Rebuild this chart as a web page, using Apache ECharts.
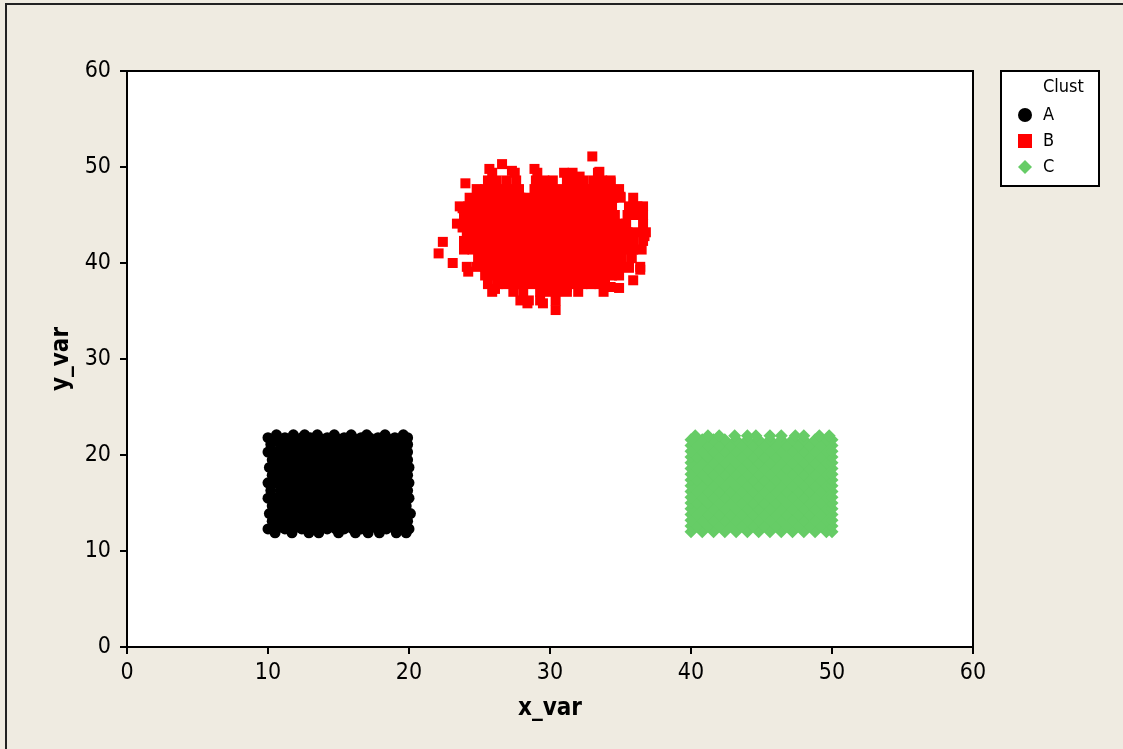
<!DOCTYPE html>
<html><head><meta charset="utf-8">
<script src="https://cdn.jsdelivr.net/npm/echarts@6/dist/echarts.min.js"></script>
<style>
html,body{margin:0;padding:0;background:#EFEBE1;overflow:hidden;}
#frame{position:absolute;left:5px;top:3px;width:1140px;height:770px;border-top:2px solid #222;border-left:2px solid #222;}
#chart{position:absolute;left:0;top:0;width:1123px;height:749px;}
</style></head><body><div id="frame"></div><div id="chart"></div>
<script>
const clusterNames = ['A', 'B', 'C'];
const axisTicks = [0, 10, 20, 30, 40, 50, 60];

// Cluster A: row y values and x values read per row
const aRowY = [11.9, 12.3, 13.1, 13.9, 14.7, 15.5, 16.3, 17.1, 17.9, 18.7, 19.5, 20.3, 21.1, 21.8, 22.1];
const aRowX = [
  [10.5, 11.7, 12.9, 13.6, 15.0, 16.2, 17.1, 17.9, 19.1, 19.8],
  [10.0, 10.6, 11.2, 11.8, 12.4, 13.0, 13.6, 14.2, 14.8, 15.4, 16.0, 16.6, 17.2, 17.8, 18.4, 19.0, 19.6, 20.0],
  [10.3, 10.9, 11.5, 12.1, 12.7, 13.3, 13.9, 14.5, 15.1, 15.7, 16.3, 16.9, 17.5, 18.1, 18.7, 19.3, 19.9],
  [10.1, 10.6, 11.2, 11.8, 12.4, 13.0, 13.6, 14.2, 14.8, 15.4, 16.0, 16.6, 17.2, 17.8, 18.4, 19.0, 19.6, 20.1],
  [10.3, 10.9, 11.5, 12.1, 12.7, 13.3, 13.9, 14.5, 15.1, 15.7, 16.3, 16.9, 17.5, 18.1, 18.7, 19.3, 19.8],
  [10.0, 10.6, 11.2, 11.8, 12.4, 13.0, 13.6, 14.2, 14.8, 15.4, 16.0, 16.6, 17.2, 17.8, 18.4, 19.0, 19.6, 20.0],
  [10.2, 10.9, 11.5, 12.1, 12.7, 13.3, 13.9, 14.5, 15.1, 15.7, 16.3, 16.9, 17.5, 18.1, 18.7, 19.3, 19.9],
  [10.0, 10.6, 11.2, 11.8, 12.4, 13.0, 13.6, 14.2, 14.8, 15.4, 16.0, 16.6, 17.2, 17.8, 18.4, 19.0, 19.6, 20.0],
  [10.3, 10.9, 11.5, 12.1, 12.7, 13.3, 13.9, 14.5, 15.1, 15.7, 16.3, 16.9, 17.5, 18.1, 18.7, 19.3, 19.9],
  [10.1, 10.6, 11.2, 11.8, 12.4, 13.0, 13.6, 14.2, 14.8, 15.4, 16.0, 16.6, 17.2, 17.8, 18.4, 19.0, 19.6, 20.0],
  [10.3, 10.9, 11.5, 12.1, 12.7, 13.3, 13.9, 14.5, 15.1, 15.7, 16.3, 16.9, 17.5, 18.1, 18.7, 19.3, 19.9],
  [10.0, 10.6, 11.2, 11.8, 12.4, 13.0, 13.6, 14.2, 14.8, 15.4, 16.0, 16.6, 17.2, 17.8, 18.4, 19.0, 19.6, 19.9],
  [10.2, 10.9, 11.5, 12.1, 12.7, 13.3, 13.9, 14.5, 15.1, 15.7, 16.3, 16.9, 17.5, 18.1, 18.7, 19.3, 19.9],
  [10.0, 10.6, 11.2, 11.8, 12.4, 13.0, 13.6, 14.2, 14.8, 15.4, 16.0, 16.6, 17.2, 17.8, 18.4, 19.0, 19.6, 19.9],
  [10.6, 11.8, 12.6, 13.5, 14.7, 15.9, 17.0, 18.3, 19.6]
];

// Cluster B: dense core rows plus scattered outliers
const bRowY = [49.4, 48.6, 47.7, 46.8, 45.9, 45.0, 44.1, 43.2, 42.3, 41.4, 40.5, 39.6, 38.7, 37.8, 37.0, 36.1];
const bRowX = [
  [25.9, 27.5, 29.1, 31.0, 31.6, 33.4],
  [25.6, 26.2, 26.9, 27.6, 29.0, 29.6, 30.2, 31.2, 31.8, 32.4, 33.1, 33.7, 34.3],
  [24.8, 25.4, 26.0, 26.6, 27.2, 27.8, 28.9, 29.5, 30.1, 30.7, 31.3, 31.9, 32.5, 33.1, 33.7, 34.3, 34.9],
  [24.3, 24.9, 25.5, 26.1, 26.7, 27.3, 27.9, 28.5, 29.1, 29.7, 30.3, 30.9, 31.5, 32.1, 32.7, 33.3, 33.9, 34.5, 35.0, 35.9],
  [23.6, 24.2, 24.8, 25.4, 26.0, 26.6, 27.2, 27.8, 28.4, 29.0, 29.6, 30.2, 30.8, 31.4, 32.0, 32.6, 33.2, 33.8, 34.4, 35.6, 36.2, 36.6],
  [23.9, 24.5, 25.1, 25.7, 26.3, 26.9, 27.5, 28.1, 28.7, 29.3, 29.9, 30.5, 31.1, 31.7, 32.3, 32.9, 33.5, 34.1, 34.6, 35.5, 36.1, 36.6],
  [23.4, 24.0, 24.6, 25.2, 25.8, 26.4, 27.0, 27.6, 28.2, 28.8, 29.4, 30.0, 30.6, 31.2, 31.8, 32.4, 33.0, 33.6, 34.2, 34.8, 35.4, 36.6],
  [24.1, 24.7, 25.3, 25.9, 26.5, 27.1, 27.7, 28.3, 28.9, 29.5, 30.1, 30.7, 31.3, 31.9, 32.5, 33.1, 33.7, 34.3, 34.9, 35.5, 36.1, 36.8],
  [23.9, 24.5, 25.1, 25.7, 26.3, 26.9, 27.5, 28.1, 28.7, 29.3, 29.9, 30.5, 31.1, 31.7, 32.3, 32.9, 33.5, 34.1, 34.7, 35.3, 35.9, 36.6],
  [23.9, 24.5, 25.1, 25.7, 26.3, 26.9, 27.5, 28.1, 28.7, 29.3, 29.9, 30.5, 31.1, 31.7, 32.3, 32.9, 33.5, 34.1, 34.7, 35.3, 35.9, 36.5],
  [24.9, 25.5, 26.1, 26.7, 27.3, 27.9, 28.5, 29.1, 29.7, 30.3, 30.9, 31.5, 32.1, 32.7, 33.3, 33.9, 34.5, 35.1, 35.8],
  [24.1, 24.8, 25.4, 26.0, 26.6, 27.2, 27.8, 28.4, 29.0, 29.6, 30.2, 30.8, 31.4, 32.0, 32.6, 33.2, 33.8, 34.4, 35.0, 35.6, 36.4],
  [25.4, 26.0, 26.6, 27.2, 27.8, 28.4, 29.0, 29.6, 30.2, 30.8, 31.4, 32.0, 32.6, 33.2, 33.8, 34.4, 34.9],
  [25.6, 26.3, 26.9, 27.5, 28.1, 28.7, 29.3, 29.9, 30.5, 31.1, 31.7, 32.3, 32.9, 33.5, 33.9],
  [25.9, 27.4, 28.1, 29.3, 29.9, 30.5, 31.2, 32.0, 33.8],
  [27.9, 28.5, 29.3, 30.4]
];
const bOutliers = [
  [33.0, 51.1], [24.0, 48.3], [26.6, 50.3], [25.7, 49.8], [22.4, 42.2], [22.1, 41.0], [23.1, 40.0],
  [30.4, 35.1], [29.5, 35.8], [28.4, 35.8], [23.8, 45.7], [23.8, 43.7], [24.2, 39.1], [36.4, 39.3],
  [35.9, 38.2], [34.9, 37.4], [36.7, 42.8], [36.5, 45.3], [34.3, 48.4], [35.0, 46.9], [27.3, 49.6],
  [28.9, 49.8], [32.1, 49.0], [35.6, 39.5], [26.1, 37.3], [34.3, 37.5], [33.5, 49.5], [31.2, 37.5]
];

// Cluster C: row y values and x values read per row
const cRowY = [12.0, 12.6, 13.2, 13.8, 14.4, 15.0, 15.6, 16.2, 16.8, 17.4, 18.0, 18.6, 19.2, 19.8, 20.4, 21.0, 21.6, 22.0];
const cRowX = [
  [40.0, 40.8, 41.6, 42.4, 43.2, 44.0, 44.8, 45.6, 46.4, 47.2, 48.0, 48.8, 49.6, 50.0],
  [40.0, 40.4, 41.2, 42.0, 42.8, 43.6, 44.4, 45.2, 46.0, 46.8, 47.6, 48.4, 49.2, 50.0],
  [40.0, 40.8, 41.6, 42.4, 43.2, 44.0, 44.8, 45.6, 46.4, 47.2, 48.0, 48.8, 49.6, 50.0],
  [40.0, 40.4, 41.2, 42.0, 42.8, 43.6, 44.4, 45.2, 46.0, 46.8, 47.6, 48.4, 49.2, 50.0],
  [40.0, 40.8, 41.6, 42.4, 43.2, 44.0, 44.8, 45.6, 46.4, 47.2, 48.0, 48.8, 49.6, 50.0],
  [40.0, 40.4, 41.2, 42.0, 42.8, 43.6, 44.4, 45.2, 46.0, 46.8, 47.6, 48.4, 49.2, 50.0],
  [40.0, 40.8, 41.6, 42.4, 43.2, 44.0, 44.8, 45.6, 46.4, 47.2, 48.0, 48.8, 49.6, 50.0],
  [40.0, 40.4, 41.2, 42.0, 42.8, 43.6, 44.4, 45.2, 46.0, 46.8, 47.6, 48.4, 49.2, 50.0],
  [40.0, 40.8, 41.6, 42.4, 43.2, 44.0, 44.8, 45.6, 46.4, 47.2, 48.0, 48.8, 49.6, 50.0],
  [40.0, 40.4, 41.2, 42.0, 42.8, 43.6, 44.4, 45.2, 46.0, 46.8, 47.6, 48.4, 49.2, 50.0],
  [40.0, 40.8, 41.6, 42.4, 43.2, 44.0, 44.8, 45.6, 46.4, 47.2, 48.0, 48.8, 49.6, 50.0],
  [40.0, 40.4, 41.2, 42.0, 42.8, 43.6, 44.4, 45.2, 46.0, 46.8, 47.6, 48.4, 49.2, 50.0],
  [40.0, 40.8, 41.6, 42.4, 43.2, 44.0, 44.8, 45.6, 46.4, 47.2, 48.0, 48.8, 49.6, 50.0],
  [40.0, 40.4, 41.2, 42.0, 42.8, 43.6, 44.4, 45.2, 46.0, 46.8, 47.6, 48.4, 49.2, 50.0],
  [40.0, 40.8, 41.6, 42.4, 43.2, 44.0, 44.8, 45.6, 46.4, 47.2, 48.0, 48.8, 49.6, 50.0],
  [40.0, 40.4, 41.2, 42.0, 42.8, 43.6, 44.4, 45.2, 46.0, 46.8, 47.6, 48.4, 49.2, 50.0],
  [40.0, 40.8, 41.6, 42.4, 43.2, 44.0, 44.8, 45.6, 46.4, 47.2, 48.0, 48.8, 49.6, 50.0],
  [40.3, 41.2, 42.0, 43.1, 44.0, 44.6, 45.6, 46.4, 47.4, 48.0, 49.1, 49.8]
];

const rowsToPoints = (ys, xs) => xs.flatMap((row, i) => row.map(x => [x, ys[i]]));
const pointsA = rowsToPoints(aRowY, aRowX);
const pointsB = rowsToPoints(bRowY, bRowX).concat(bOutliers);
const pointsC = rowsToPoints(cRowY, cRowX);

const FONT = "'DejaVu Sans Condensed', 'DejaVu Sans', sans-serif";
const chart = echarts.init(document.getElementById('chart'), null, { renderer: 'canvas' });

const axisCommon = {
  type: 'value',
  min: axisTicks[0],
  max: axisTicks[axisTicks.length - 1],
  interval: axisTicks[1] - axisTicks[0],
  splitLine: { show: false },
  axisLine: { show: true, lineStyle: { color: '#000', width: 2 } },
  axisTick: { show: true, inside: false, length: 7, lineStyle: { color: '#000', width: 2 } },
  nameLocation: 'middle',
  nameTextStyle: { fontFamily: FONT, fontSize: 24, fontWeight: 'bold', color: '#000' }
};

chart.setOption({
  animation: false,
  backgroundColor: 'transparent',
  grid: { left: 127, right: 150, top: 71, bottom: 102, show: true, backgroundColor: '#fff', borderColor: '#000', borderWidth: 2 },
  xAxis: Object.assign({}, axisCommon, {
    name: 'x_var', nameGap: 50,
    axisLabel: { fontFamily: FONT, fontSize: 23, color: '#000', margin: 15 }
  }),
  yAxis: Object.assign({}, axisCommon, {
    name: 'y_var', nameGap: 51,
    axisLabel: { fontFamily: FONT, fontSize: 23, color: '#000', margin: 16 }
  }),
  legend: {
    orient: 'vertical', left: 1013, top: 101,
    itemWidth: 14, itemHeight: 14, itemGap: 8,
    selectedMode: false,
    data: [
      { name: clusterNames[0], icon: 'circle' },
      { name: clusterNames[1], icon: 'rect' },
      { name: clusterNames[2], icon: 'diamond' }
    ],
    textStyle: { fontFamily: FONT, fontSize: 18, lineHeight: 18, color: '#000', padding: [0, 0, 0, 6] }
  },
  graphic: [
    { type: 'rect', z: 0, shape: { x: 1001, y: 71, width: 98, height: 115 }, style: { fill: '#fff', stroke: '#000', lineWidth: 2 } },
    { type: 'text', z: 1, x: 1043, y: 78, style: { text: 'Clust', fontFamily: FONT, fontSize: 18, fill: '#000' } }
  ],
  series: [
    { type: 'scatter', name: clusterNames[0], symbol: 'circle', symbolSize: 11, itemStyle: { color: '#000', opacity: 1 }, data: pointsA },
    { type: 'scatter', name: clusterNames[1], symbol: 'rect', symbolSize: 10, itemStyle: { color: '#FF0000', opacity: 1 }, data: pointsB },
    { type: 'scatter', name: clusterNames[2], symbol: 'diamond', symbolSize: 13, itemStyle: { color: '#66CC66', opacity: 1 }, data: pointsC }
  ]
});
</script></body></html>
